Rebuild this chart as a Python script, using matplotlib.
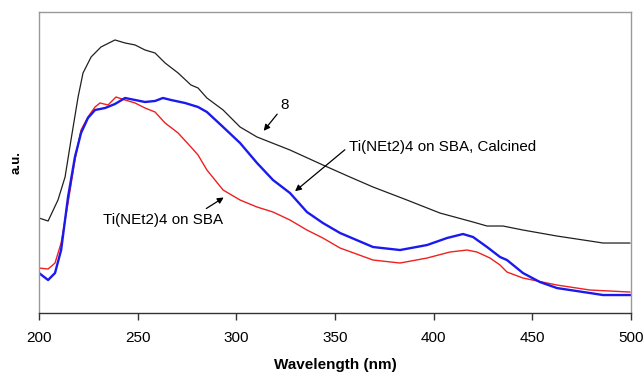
import matplotlib
matplotlib.use("Agg")
import matplotlib.pyplot as plt

plt.rcParams['font.family'] = ['Liberation Sans', 'DejaVu Sans']

# Sample 8 (black)
wl_black = [200, 204.6, 209.6, 213.2, 216.2, 219.8, 222.3, 226.4, 231.4, 238.5, 243.6, 248.7,
            253.7, 258.8, 263.9, 270.5, 277, 280.6, 285.1, 293.3, 301.9, 310.5, 327.2, 343.9,
            357.6, 369.3, 386.5, 403.2, 420, 427.1, 435.2, 445.3, 462.5, 479.3, 485.9, 499.5]
au_black = [0.95, 0.92, 1.13, 1.36, 1.73, 2.16, 2.40, 2.56, 2.66, 2.73, 2.70, 2.68,
            2.63, 2.60, 2.50, 2.40, 2.28, 2.25, 2.15, 2.03, 1.86, 1.76, 1.63, 1.48,
            1.36, 1.26, 1.13, 1.00, 0.91, 0.87, 0.87, 0.83, 0.77, 0.72, 0.70, 0.70]

# Ti(NEt2)4 on SBA (red)
wl_red = [200, 204.6, 208.1, 211.2, 214.7, 218.2, 221.3, 224.8, 228.4, 230.9, 235.0, 239.0,
          243.6, 248.7, 253.7, 258.8, 263.9, 270.5, 277, 280.6, 285.1, 293.3, 301.9, 310.5,
          318.6, 327.2, 335.8, 343.9, 352.6, 369.3, 383.0, 396.7, 408.3, 416.9, 422.0, 428.6,
          433.7, 437.2, 445.3, 462.5, 479.3, 499.5]
au_red = [0.45, 0.44, 0.50, 0.70, 1.10, 1.53, 1.83, 1.96, 2.06, 2.10, 2.08, 2.16,
          2.13, 2.10, 2.05, 2.01, 1.90, 1.80, 1.66, 1.58, 1.43, 1.23, 1.13, 1.06,
          1.01, 0.93, 0.83, 0.75, 0.65, 0.53, 0.50, 0.55, 0.61, 0.63, 0.61, 0.55,
          0.48, 0.41, 0.35, 0.28, 0.23, 0.21]

# Ti(NEt2)4 on SBA, Calcined (blue)
wl_blue = [200, 204.6, 208.1, 211.2, 214.7, 218.2, 221.3, 224.8, 228.4, 233.5, 238.5, 243.6,
           248.7, 253.7, 258.8, 262.8, 266.9, 274.0, 280.6, 285.1, 293.3, 301.9, 310.5, 318.6,
           327.2, 335.8, 343.9, 352.6, 369.3, 383.0, 396.7, 406.8, 414.9, 420.0, 427.1, 433.7,
           437.2, 445.3, 453.9, 462.5, 479.3, 485.9, 499.5]
au_blue = [0.40, 0.33, 0.40, 0.63, 1.16, 1.56, 1.80, 1.95, 2.03, 2.05, 2.09, 2.15,
           2.13, 2.11, 2.12, 2.15, 2.13, 2.10, 2.06, 2.01, 1.86, 1.70, 1.50, 1.33,
           1.20, 1.01, 0.90, 0.80, 0.66, 0.63, 0.68, 0.75, 0.79, 0.76, 0.66, 0.56,
           0.53, 0.40, 0.31, 0.25, 0.20, 0.18, 0.18]

x_ticks = [200, 250, 300, 350, 400, 450, 500]

fig = plt.figure(figsize=(6.44, 3.74), dpi=100)
ax = fig.add_axes([0.0606, 0.163, 0.919, 0.805])

ax.plot(wl_black, au_black, color='#202020', lw=0.9)
ax.plot(wl_red, au_red, color='#ee2020', lw=1.0)
ax.plot(wl_blue, au_blue, color='#1a1aee', lw=1.7)

ax.set_xlim(200, 500)
ax.set_ylim(0, 3.01)
ax.set_xticks(x_ticks)
ax.set_xticklabels([str(t) for t in x_ticks], fontsize=11)
ax.set_yticks([])
ax.tick_params(axis='x', direction='out', length=5, width=1, pad=8, color='#333333')
for s in ['left', 'top', 'right']:
    ax.spines[s].set_color('#999999')
    ax.spines[s].set_linewidth(1.0)
ax.spines['bottom'].set_color('#333333')
ax.spines['bottom'].set_linewidth(1.0)

ax.set_xlabel('Wavelength (nm)', fontsize=11, fontweight='bold', labelpad=9)
ax.set_ylabel('a.u.', fontsize=9.5, fontweight='bold', labelpad=12)

arrow = dict(arrowstyle='-|>', color='black', lw=0.9, mutation_scale=9)
ax.annotate('', xy=(313.0, 1.80), xytext=(321.6, 2.01), arrowprops=arrow)
ax.text(324.7, 2.08, '8', fontsize=11, ha='center', va='center')

ax.annotate('', xy=(328.7, 1.20), xytext=(356.1, 1.65), arrowprops=arrow)
ax.text(357.0, 1.66, 'Ti(NEt2)4 on SBA, Calcined', fontsize=10.9, ha='left', va='center')

ax.annotate('', xy=(294.8, 1.17), xytext=(283.6, 1.03), arrowprops=arrow)
ax.text(232.4, 0.93, 'Ti(NEt2)4 on SBA', fontsize=10.9, ha='left', va='center')

fig.savefig('out.png', dpi=100)
